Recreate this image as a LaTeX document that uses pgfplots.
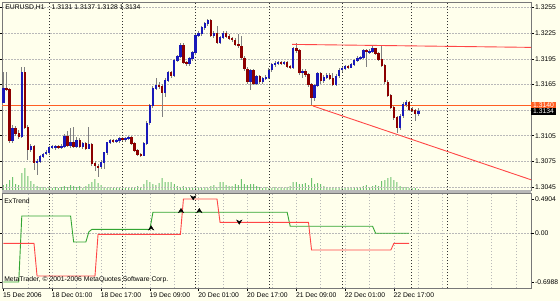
\documentclass[border=0pt]{standalone}
\usepackage{fontspec}
\setmainfont{Liberation Sans}
\usepackage{pgfplots}
\pgfplotsset{compat=1.18}
\usepackage{pgfplotstable}

\definecolor{bg}{RGB}{255,255,236}
\definecolor{bull}{RGB}{25,25,185}
\definecolor{bear}{RGB}{140,0,0}
\definecolor{wick}{RGB}{128,128,128}
\definecolor{vol}{RGB}{110,195,110}
\definecolor{gridc}{RGB}{185,185,185}
\definecolor{trendr}{RGB}{255,70,70}
\definecolor{orng}{RGB}{255,95,35}
\definecolor{grn}{RGB}{50,165,50}
\definecolor{frame}{RGB}{120,120,120}

% bar index, open, high, low, close (pips above 1.3000), tick volume
\pgfplotstableread{
i o h l c v
0 144.2 180 143 160.5 50
1 160.5 180 157 159.3 60
2 159.3 161 97 99.8 100
3 99.8 118 97 113.8 130
4 113.8 116 105 108.0 60
5 108.0 112 101 104.5 50
6 104.5 185 102 179.2 170
7 179.2 185 113 115.0 220
8 115.0 117 76.5 88.2 140
9 88.2 95 86 92.8 90
10 92.8 94 65 74.1 60
11 74.1 78 59 75.3 40
12 75.3 83 73 81.1 30
13 81.1 85 79 83.5 30
14 83.5 88 82 85.8 20
15 85.8 93 82 91.6 30
16 91.6 94 90 92.0 20
17 92.0 94 88 92.8 30
18 92.8 94 89 91.6 20
19 91.6 95 90 92.8 30
20 92.8 107 91 104.5 40
21 104.5 110 92 94.0 30
22 94.0 114 91 97.5 50
23 97.5 115 91 92.8 40
24 92.8 103 91 99.8 30
25 99.8 102 91 92.8 40
26 92.8 98 90 96.3 20
27 96.3 98 88 90.5 40
28 90.5 115 89 95.1 60
29 95.1 97 70 72.9 80
30 72.9 75 64 69.5 110
31 69.5 72 57 68.3 70
32 68.3 77 66 74.1 50
33 74.1 86 66 85.0 30
34 85.0 98 83 97.0 20
35 97.0 101 95 99.0 30
36 99.0 101 96 98.0 20
37 98.0 101 96 99.0 20
38 99.0 103 97 102.0 30
39 102.0 104 99 100.0 20
40 100.0 104 98 102.0 20
41 102.0 105 100 103.0 30
42 103.0 105 94 96.0 20
43 96.0 98 86 88.0 30
44 88.0 90 81 83.0 40
45 83.0 85 80 82.3 30
46 82.3 98 81 96.0 60
47 96.0 122 94 120.0 100
48 120.0 142 118 140.0 80
49 140.0 163 138 160.0 60
50 160.0 173 158 164.0 50
51 164.0 168 160 163.0 70
52 163.0 165 127 155.0 120
53 155.0 172 150 170.0 80
54 170.0 181 168 179.0 80
55 179.0 181 173 175.0 80
56 175.0 195 174 193.0 60
57 193.0 200 191 198.0 40
58 198.0 213 196 211.0 30
59 211.0 213 189 191.0 40
60 191.0 193 187 189.7 30
61 189.7 197 187 195.5 30
62 195.5 204 193 202.5 30
63 202.5 224 200 222.4 40
64 222.4 227 220 224.7 30
65 224.7 233 222 231.7 20
66 231.7 238 229 236.4 30
67 236.4 242 234 239.9 20
68 239.9 242 220 222.4 40
69 222.4 227 219 224.7 50
70 224.7 234 212 214.2 30
71 214.2 222 212 220.0 80
72 220.0 227 218 224.7 80
73 224.7 228 219 221.0 50
74 221.0 224 217 219.0 40
75 219.0 221 215 217.0 40
76 217.0 219 210 212.0 60
77 212.0 224 208 210.0 50
78 210.0 222 194 196.0 110
79 196.0 198 181 183.0 60
80 183.0 185 166 168.0 50
81 168.0 183 158 181.0 60
82 181.0 183 164 166.0 60
83 166.0 176 164 174.0 40
84 174.0 176 166 168.0 30
85 168.0 174 166 172.0 20
86 172.0 176 170 173.0 30
87 173.0 184 171 182.0 20
88 182.0 190 180 188.0 20
89 188.0 192 186 190.0 30
90 190.0 193 188 190.8 20
91 190.8 193 188 190.0 30
92 190.0 193 188 190.8 20
93 190.8 192 184 186.0 30
94 186.0 188 183 185.0 40
95 185.0 209 183 207.2 80
96 207.2 213 202 204.9 80
97 204.9 206 176 179.2 60
98 179.2 183 172 180.3 60
99 180.3 183 174 176.8 70
100 176.8 179 162 165.2 50
101 165.2 167 141 150.0 120
102 150.0 166 146 164.0 60
103 164.0 180 162 178.0 70
104 178.0 180 166 169.0 60
105 169.0 176 167 173.0 40
106 173.0 179 171 176.0 30
107 176.0 178 170 172.0 30
108 172.0 179 163 165.0 20
109 165.0 177 163 175.0 30
110 175.0 184 173 182.0 20
111 182.0 186 180 184.0 30
112 184.0 188 182 186.0 20
113 186.0 188 183 185.0 30
114 185.0 190 184 188.0 20
115 188.0 195 187 193.0 30
116 193.0 198 191 196.0 20
117 196.0 198 194 196.5 30
118 196.5 207 195 205.0 40
119 205.0 207 185 203.0 50
120 203.0 206 201 204.0 30
121 204.0 210 202 207.0 40
122 207.0 208 199 201.0 50
123 201.0 203 192 194.0 40
124 194.0 211 185 187.0 90
125 187.0 189 166 168.0 100
126 168.0 170 150 152.0 120
127 152.0 154 136 138.0 130
128 138.0 140 124 126.0 100
129 126.0 128 108 115.0 80
130 115.0 130 112 128.0 40
131 128.0 144 126 142.0 30
132 142.0 147 139 144.0 30
133 144.0 146 134 136.0 20
134 136.0 139 133 134.5 20
135 134.5 136 122 131.3 20
136 131.3 137 128 134.0 10
}\bars

\pgfplotstableread{
i g
0 -0.6988
5 -0.6988
6 0.246
22 0.246
23 -0.126
27 -0.126
28 0.02
29 0.056
48 0.056
49 0.30
93 0.30
94 0.10
121 0.10
122 0.0
133 0.0
}\green

\pgfplotstableread{
i r
0 -0.145
10 -0.145
11 -0.613
30 -0.613
31 -0.016
58 -0.016
59 0.4904
70 0.4904
71 0.156
100 0.156
101 -0.241
127 -0.241
128 -0.145
133 -0.145
}\red

\pgfdeclareplotmark{uparr}{%
  \pgfpathmoveto{\pgfqpoint{0pt}{2.6pt}}%
  \pgfpathlineto{\pgfqpoint{2.6pt}{-1.6pt}}%
  \pgfpathlineto{\pgfqpoint{0pt}{-0.2pt}}%
  \pgfpathlineto{\pgfqpoint{-2.6pt}{-1.6pt}}%
  \pgfpathclose\pgfusepathqfillstroke}
\pgfdeclareplotmark{dnarr}{%
  \pgfpathmoveto{\pgfqpoint{0pt}{-2.6pt}}%
  \pgfpathlineto{\pgfqpoint{2.6pt}{1.6pt}}%
  \pgfpathlineto{\pgfqpoint{0pt}{0.2pt}}%
  \pgfpathlineto{\pgfqpoint{-2.6pt}{1.6pt}}%
  \pgfpathclose\pgfusepathqfillstroke}

\pgfplotsset{
  mt/.style={
    scale only axis, width=529pt,
    xmin=-0.49, xmax=172.95,
    clip mode=individual,
    axis line style={draw=frame, line width=0.8pt},
    tick label style={font=\fontsize{6.8}{8}\selectfont, black},
    minor xtick={8,16,...,168}, xminorgrids=true, minor tick length=0pt,
    minor grid style={gridc, dash pattern=on 1.5pt off 1.5pt, line width=0.6pt},
    major grid style={gridc, dash pattern=on 1.5pt off 1.5pt, line width=0.6pt},
    extra x ticks={15,39,63,87,111,133.6,145.4},
    extra x tick labels={},
    extra x tick style={grid=major, major tick length=0pt,
      major grid style={black!80, dash pattern=on 1.5pt off 1.5pt, line width=0.7pt}},
    tick align=outside,
    yticklabel pos=right,
    ytick style={black, line width=0.5pt},
    major tick length=3pt,
    yticklabel style={anchor=west, inner sep=0pt, xshift=1pt},
  }
}

\begin{document}
\begin{tikzpicture}
\fill[bg] (0pt,0pt) rectangle (560pt,301pt);

% volume overlay
\begin{axis}[scale only axis, width=529pt, height=188pt, at={(2pt,111pt)}, anchor=south west,
  xmin=-0.49, xmax=172.95, ymin=0, ymax=1880, axis lines=none]
  \addplot[ybar, bar width=1pt, fill=vol, draw=none] table[x=i, y=v] {\bars};
\end{axis}

% price panel
\begin{axis}[mt, height=188pt, at={(2pt,111pt)}, anchor=south west,
  ymin=41.5, ymax=261.5,
  xtick=\empty,
  ytick={45,75,105,135,165,195,225,255},
  yticklabels={1.3045,1.3075,1.3105,{},1.3165,1.3195,1.3225,1.3255},
  ymajorgrids=true]
  \addplot[orng, line width=0.9pt] coordinates {(-0.49,140) (172.95,140)};
  % wicks
  \addplot[draw=none, mark=none, error bars/.cd, y dir=both, y explicit, error mark=none,
    error bar style={wick, line width=0.9pt}]
    table[x=i, y expr={(\thisrow{h}+\thisrow{l})/2}, y error expr={(\thisrow{h}-\thisrow{l})/2}] {\bars};
  % bull bodies
  \addplot[draw=none, mark=none, unbounded coords=discard, error bars/.cd, y dir=both, y explicit, error mark=none,
    error bar style={bull, line width=2.4pt}]
    table[x=i, y expr={\thisrow{c}>=\thisrow{o} ? (\thisrow{o}+\thisrow{c})/2 : nan},
      y error expr={abs(\thisrow{c}-\thisrow{o})/2+0.45}] {\bars};
  % bear bodies
  \addplot[draw=none, mark=none, unbounded coords=discard, error bars/.cd, y dir=both, y explicit, error mark=none,
    error bar style={bear, line width=2.4pt}]
    table[x=i, y expr={\thisrow{c}<\thisrow{o} ? (\thisrow{o}+\thisrow{c})/2 : nan},
      y error expr={abs(\thisrow{c}-\thisrow{o})/2+0.45}] {\bars};
  % trend lines
  \addplot[trendr, line width=0.9pt] coordinates {(94.6,211.9) (172.95,208.4)};
  \addplot[trendr, line width=0.9pt] coordinates {(101.5,139.8) (172.95,53.5)};
  \node[anchor=west, inner sep=0pt, font=\fontsize{6.8}{8}\selectfont] at (rel axis cs:0.006,0.971)
    {EURUSD,H1\hspace{7pt}1.3131 1.3137 1.3128 1.3134};
  \node[fill=orng, text=white, anchor=west, inner xsep=2pt, inner ysep=0pt, minimum height=7pt,
    font=\fontsize{6.8}{8}\selectfont] at (axis cs:172.95,140.6) {1.3140};
  \node[fill=black, text=white, anchor=west, inner xsep=2pt, inner ysep=0pt, minimum height=7pt,
    font=\fontsize{6.8}{8}\selectfont] at (axis cs:172.95,133.6) {1.3134};
\end{axis}

% indicator panel
\begin{axis}[mt, height=95pt, at={(2pt,13pt)}, anchor=south west,
  ymin=-0.785, ymax=0.576,
  xtick={0,16,32,48,64,80,96,112,128},
  xticklabels={15 Dec 2006,18 Dec 01:00,18 Dec 17:00,19 Dec 09:00,20 Dec 01:00,20 Dec 17:00,21 Dec 09:00,22 Dec 01:00,22 Dec 17:00},
  xtick pos=bottom,
  xtick style={black, line width=0.5pt},
  xticklabel style={anchor=north west, inner sep=0pt, xshift=-0.5pt, yshift=-1.5pt},
  ytick={-0.6988,0.4904},
  yticklabels={-0.6988,0.4904},
  extra y ticks={0},
  extra y tick labels={0.00},
  extra y tick style={grid=major, major grid style={gridc, dash pattern=on 1.5pt off 1.5pt, line width=0.6pt}}]
  \addplot[grn, line width=0.9pt] table[x=i, y=g] {\green};
  \addplot[trendr, line width=0.9pt] table[x=i, y=r] {\red};
  \addplot[only marks, mark=uparr, black] coordinates {(48.4,0.07) (58.2,0.318) (64.2,0.318)};
  \addplot[only marks, mark=dnarr, black] coordinates {(62.2,0.514) (77.3,0.165)};
  \node[anchor=west, inner sep=0pt, font=\fontsize{6.8}{8}\selectfont] at (rel axis cs:0.004,0.916) {ExTrend};
  \node[anchor=west, inner sep=0pt, font=\fontsize{6.8}{8}\selectfont] at (rel axis cs:0.004,0.084)
    {MetaTrader, © 2001-2006 MetaQuotes Software Corp.};
\end{axis}

\fill[gray!55] (2pt,108pt) rectangle (531pt,111pt);
\pgfresetboundingbox
\path[use as bounding box] (0pt,0pt) rectangle (560pt,301pt);
\end{tikzpicture}
\end{document}
